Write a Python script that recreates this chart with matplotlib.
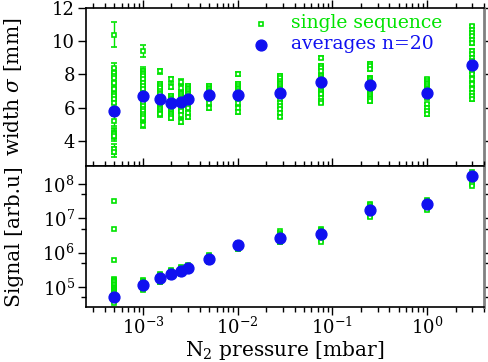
import matplotlib
matplotlib.use("Agg")
import matplotlib.pyplot as plt
from matplotlib.ticker import LogLocator, FixedLocator, NullFormatter

plt.rcParams['font.family'] = ['DejaVu Serif']
plt.rcParams['mathtext.fontset'] = 'dejavuserif'

# N2 pressure [mbar]
pressure = [5e-4, 1e-3, 1.5e-3, 2e-3, 2.5e-3, 3e-3, 5e-3, 1e-2, 2.8e-2, 7.5e-2, 0.25, 1.0, 3.0]

# width sigma [mm], single sequences per pressure
width_single = [
    [10.4, 8.4, 8.1, 7.9, 7.8, 7.5, 7.2, 7.1, 6.85, 6.7, 6.5, 6.3, 5.2, 4.5, 4.4, 4.3, 3.5, 3.35],
    [9.4, 8.2, 8.1, 8.0, 7.9, 7.7, 7.5, 7.3, 7.1, 6.9, 6.7, 6.5, 6.3, 6.1, 5.9, 5.8, 5.6, 5.5, 5.4, 4.95],
    [8.2, 7.4, 7.3, 7.2, 7.0, 6.9, 6.8, 6.6, 6.5, 6.4, 6.3, 6.2, 6.1, 6.0, 5.9, 5.8, 5.7, 5.6],
    [7.7, 7.25, 6.7, 6.6, 6.5, 6.4, 6.3, 6.2, 6.1, 6.0, 5.9, 5.8, 5.7, 5.6, 5.5, 5.4],
    [7.55, 7.2, 6.9, 6.8, 6.7, 6.6, 6.4, 6.3, 6.2, 6.0, 5.9, 5.8, 5.55, 5.15],
    [7.3, 7.2, 7.1, 7.0, 6.9, 6.8, 6.7, 6.6, 6.5, 6.4, 6.3, 6.2, 6.1, 5.95, 5.65, 5.45],
    [7.3, 7.2, 7.1, 7.0, 6.9, 6.8, 6.7, 6.6, 6.3, 6.0],
    [8.0, 7.4, 7.3, 7.2, 7.1, 7.0, 6.9, 6.8, 6.7, 6.6, 6.5, 6.3, 6.0, 5.75],
    [7.9, 7.8, 7.6, 7.5, 7.4, 7.3, 7.2, 7.1, 7.0, 6.9, 6.8, 6.7, 6.5, 6.3, 6.1, 5.9, 5.7, 5.45],
    [9.0, 8.5, 8.4, 8.2, 7.9, 7.8, 7.7, 7.6, 7.5, 7.4, 7.3, 7.2, 7.1, 7.0, 6.9, 6.8, 6.6, 6.4, 6.3],
    [8.65, 8.5, 8.3, 7.8, 7.7, 7.6, 7.5, 7.4, 7.3, 7.2, 7.1, 7.0, 6.9, 6.8, 6.7, 6.6, 6.5, 6.4],
    [7.7, 7.6, 7.5, 7.4, 7.3, 7.2, 7.1, 7.0, 6.9, 6.8, 6.7, 6.6, 6.2, 6.0, 5.8, 5.6],
    [10.9, 10.7, 10.5, 10.3, 10.1, 9.9, 9.4, 9.2, 9.0, 8.8, 8.6, 8.4, 8.2, 8.0, 7.7, 7.4, 7.1, 6.9, 6.7, 6.5],
]
width_err = [
    [0.75, 0.3, 0.3, 0.3, 0.3, 0.3, 0.3, 0.3, 0.3, 0.3, 0.3, 0.3, 0.3, 0.3, 0.3, 0.3, 0.3, 0.3],
    [0.35, 0.25, 0.25, 0.25, 0.25, 0.25, 0.25, 0.25, 0.25, 0.25, 0.25, 0.25, 0.25, 0.25, 0.25, 0.25, 0.25, 0.25, 0.25, 0.2],
    0.15, 0.15, 0.15, 0.15, 0.12, 0.12, 0.1, 0.1, 0.1, 0.1, 0.1,
]
width_avg = [5.8, 6.7, 6.5, 6.25, 6.35, 6.5, 6.75, 6.75, 6.86, 7.54, 7.36, 6.86, 8.54]

# signal [arb.u], single sequences per pressure
signal_single = [
    [3.2e7, 4.8e6, 5.9e5, 1.7e5, 1.6e5, 1.5e5, 1.35e5, 1.2e5, 1.1e5, 1.0e5, 9.5e4, 9e4, 8.5e4,
     8e4, 7.5e4, 7e4, 6.5e4, 6e4, 5.5e4, 5e4, 4.5e4, 4e4, 3.5e4],
    [1.6e5, 1.5e5, 1.4e5, 1.3e5, 1.2e5, 1.1e5, 1.05e5, 1.0e5, 9.5e4, 9e4, 8.5e4, 8e4],
    [2.4e5, 2.25e5, 2.1e5, 2.0e5, 1.9e5, 1.8e5, 1.7e5, 1.6e5, 1.5e5, 1.4e5, 1.35e5],
    [3.2e5, 3.0e5, 2.8e5, 2.65e5, 2.5e5, 2.35e5, 2.2e5, 2.1e5, 2.0e5],
    [3.9e5, 3.6e5, 3.4e5, 3.2e5, 3.0e5, 2.85e5, 2.7e5, 2.55e5, 2.4e5],
    [4.4e5, 4.1e5, 3.9e5, 3.7e5, 3.5e5, 3.3e5, 3.1e5, 3.0e5, 2.9e5],
    [8.3e5, 7.8e5, 7.4e5, 7.0e5, 6.6e5, 6.2e5, 5.9e5, 5.5e5, 5.2e5],
    [1.9e6, 1.8e6, 1.7e6, 1.6e6, 1.55e6, 1.45e6, 1.4e6, 1.3e6, 1.25e6],
    [4.2e6, 3.8e6, 3.5e6, 3.2e6, 3.0e6, 2.8e6, 2.6e6, 2.4e6, 2.2e6, 2.1e6, 2.0e6],
    [5.0e6, 4.6e6, 4.2e6, 3.9e6, 3.6e6, 3.3e6, 3.1e6, 2.8e6, 2.6e6, 2.3e6, 2.1e6],
    [2.6e7, 2.4e7, 2.2e7, 2.0e7, 1.9e7, 1.75e7, 1.6e7, 1.45e7, 1.3e7, 1.2e7, 1.1e7],
    [3.4e7, 3.2e7, 3.0e7, 2.8e7, 2.6e7, 2.45e7, 2.3e7, 2.15e7, 2.0e7, 1.9e7, 1.8e7],
    [2.2e8, 2.0e8, 1.9e8, 1.75e8, 1.6e8, 1.45e8, 1.35e8, 1.25e8, 1.15e8, 1.05e8, 1.0e8, 9e7],
]
signal_avg = [5e4, 1.1e5, 1.8e5, 2.45e5, 3.0e5, 3.6e5, 6.6e5, 1.65e6, 2.7e6, 3.4e6, 1.74e7, 2.55e7, 1.7e8]

green = '#00e400'
blue = '#1010f0'

fig = plt.figure(figsize=(4.88, 3.62), dpi=100)
ax1 = fig.add_axes([0.176, 0.542, 0.816, 0.436])
ax2 = fig.add_axes([0.176, 0.152, 0.816, 0.390])

# top: width
for i, p in enumerate(pressure):
    ys = width_single[i]
    ax1.errorbar([p] * len(ys), ys, yerr=width_err[i], fmt='s', ms=3.3, mfc='white',
                 mec=green, mew=1.2, ecolor=green, elinewidth=1.0, capsize=2, zorder=2)
ax1.plot(pressure, width_avg, 'o', color=blue, ms=7.8, zorder=3)

# legend made by hand
ax1.plot([0.44], [0.90], 's', transform=ax1.transAxes, ms=3.3, mfc='white', mec=green, mew=1.2)
ax1.plot([0.44], [0.765], 'o', transform=ax1.transAxes, ms=7.8, color=blue)
ax1.text(0.515, 0.905, 'single sequence', transform=ax1.transAxes, color=green,
         fontsize=13.5, va='center')
ax1.text(0.515, 0.77, 'averages n=20', transform=ax1.transAxes, color=blue,
         fontsize=13.5, va='center')

# bottom: signal
for i, p in enumerate(pressure):
    ys = signal_single[i]
    ax2.plot([p] * len(ys), ys, 's', ms=3.3, mfc='white', mec=green, mew=1.2, zorder=2)
ax2.plot(pressure, signal_avg, 'o', color=blue, ms=7.8, zorder=3)

for ax in (ax1, ax2):
    ax.set_xscale('log')
    ax.set_xlim(2.5e-4, 4.0)
    ax.tick_params(which='both', direction='out', top=True, right=True, labelsize=13, width=1.0)
    ax.tick_params(which='major', length=6)
    ax.tick_params(which='minor', length=3.5)
    ax.tick_params(axis='x', pad=1)
    ax.tick_params(axis='y', pad=2)
    ax.xaxis.set_major_locator(LogLocator(base=10, numticks=10))
    ax.xaxis.set_minor_locator(LogLocator(base=10, subs=range(2, 10), numticks=10))
    ax.xaxis.set_minor_formatter(NullFormatter())
    for s in ('left', 'top', 'bottom'):
        ax.spines[s].set_linewidth(1.2)
    ax.spines['right'].set_linewidth(2)
    ax.spines['right'].set_color('0.5')

ax1.set_ylim(2.5, 12)
ax1.yaxis.set_major_locator(FixedLocator([4, 6, 8, 10, 12]))
ax1.tick_params(labelbottom=False)
ax1.set_ylabel(r'width $\sigma$ [mm]', fontsize=14.5)

ax2.set_yscale('log')
ax2.set_ylim(2.6e4, 3.4e8)
ax2.yaxis.set_major_locator(FixedLocator([1e5, 1e6, 1e7, 1e8]))
ax2.yaxis.set_minor_locator(LogLocator(base=10, subs=(0.5,), numticks=10))
ax2.yaxis.set_minor_formatter(NullFormatter())
ax2.set_ylabel('Signal [arb.u]', fontsize=14.5)
ax2.set_xlabel(r'N$_2$ pressure [mbar]', fontsize=14.5, labelpad=1)

ax1.yaxis.set_label_coords(-0.155, 0.5)
ax2.yaxis.set_label_coords(-0.155, 0.5)

fig.savefig('out.png', dpi=100)
